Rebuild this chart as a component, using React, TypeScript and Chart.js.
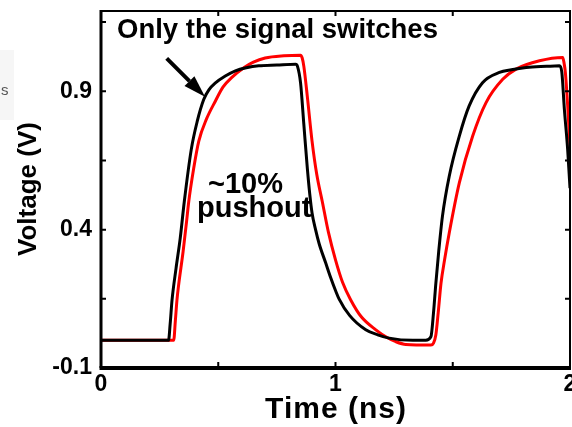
import React, { useEffect, useRef } from "react";
import { Chart, registerables } from "chart.js";
Chart.register(...registerables);

// ---- data ----
const blackTime = [0, 0.288, 0.295, 0.303, 0.32, 0.338, 0.355, 0.385, 0.41, 0.438, 0.46, 0.488, 0.53, 0.573, 0.62, 0.673, 0.75, 0.83, 0.838, 0.851, 0.865, 0.88, 0.89, 0.9, 0.915, 0.93, 0.958, 0.98, 1.0, 1.015, 1.06, 1.129, 1.18, 1.229, 1.33, 1.385, 1.407, 1.418, 1.428, 1.44, 1.456, 1.485, 1.528, 1.57, 1.627, 1.699, 1.75, 1.813, 1.9, 1.955, 1.965, 1.976, 1.99, 2.0];
const blackVolt = [0.0, 0.0, 0.06, 0.146, 0.26, 0.37, 0.5, 0.69, 0.79, 0.87, 0.905, 0.93, 0.955, 0.974, 0.985, 0.992, 0.995, 0.998, 0.99, 0.93, 0.78, 0.62, 0.53, 0.46, 0.4, 0.35, 0.28, 0.225, 0.18, 0.15, 0.09, 0.038, 0.02, 0.008, 0.0, 0.0, 0.013, 0.1, 0.207, 0.32, 0.448, 0.593, 0.738, 0.847, 0.931, 0.968, 0.978, 0.986, 0.99, 0.992, 0.97, 0.835, 0.69, 0.55];
const redTime = [0, 0.3, 0.31, 0.317, 0.324, 0.331, 0.35, 0.365, 0.374, 0.395, 0.417, 0.45, 0.488, 0.52, 0.558, 0.609, 0.65, 0.7, 0.78, 0.851, 0.858, 0.865, 0.88, 0.9, 0.92, 0.944, 0.97, 1.0, 1.03, 1.065, 1.11, 1.172, 1.22, 1.257, 1.3, 1.407, 1.418, 1.428, 1.438, 1.45, 1.465, 1.485, 1.528, 1.585, 1.642, 1.713, 1.77, 1.87, 1.969, 1.975, 1.98, 1.99, 2.0];
const redVolt = [0.0, 0.0, 0.0, 0.07, 0.146, 0.2, 0.32, 0.43, 0.5, 0.62, 0.72, 0.8, 0.865, 0.915, 0.95, 0.985, 1.005, 1.02, 1.028, 1.03, 1.02, 0.99, 0.88, 0.72, 0.6, 0.5, 0.39, 0.291, 0.21, 0.146, 0.085, 0.038, 0.01, -0.005, -0.015, -0.017, -0.01, 0.02, 0.1, 0.207, 0.29, 0.388, 0.569, 0.738, 0.859, 0.943, 0.98, 1.01, 1.022, 1.0, 0.97, 0.85, 0.7];

const xTicks = [0, 0.5, 1, 1.5, 2];
const xTickLabels = ["0", "", "1", "", "2"];
const yTicks = [-0.1, 0.15, 0.4, 0.65, 0.9, 1.15];
const yTickLabels = ["-0.1", "", "0.4", "", "0.9", ""];
const xTitle = "Time (ns)";
const yTitle = "Voltage (V)";
const noteTop = "Only the signal switches";
const notePush = ["~10%", "pushout"];
const edgeText = "s";

const FONT = "'Liberation Sans', Arial, Helvetica, sans-serif";

const overlay = {
  id: "overlay",
  beforeDraw(chart: any) {
    const { ctx } = chart;
    ctx.save();
    ctx.fillStyle = "#ffffff";
    ctx.fillRect(0, 0, chart.width, chart.height);
    ctx.fillStyle = "#f6f6f6";
    ctx.fillRect(0, 50, 14, 70);
    ctx.fillStyle = "#555";
    ctx.font = `15px ${FONT}`;
    ctx.textBaseline = "alphabetic";
    ctx.textAlign = "left";
    ctx.fillText(edgeText, 1, 95);
    ctx.restore();
  },
  afterDatasetsDraw(chart: any) {
    const { ctx, chartArea: a, scales } = chart;
    const xs = scales.x, ys = scales.y;
    ctx.save();
    ctx.strokeStyle = "#000";
    ctx.fillStyle = "#000";
    // frame
    ctx.lineWidth = 2;
    ctx.beginPath();
    ctx.moveTo(a.left, a.top);
    ctx.lineTo(a.right, a.top);
    ctx.lineTo(a.right, a.bottom);
    ctx.stroke();
    ctx.lineWidth = 3;
    ctx.beginPath();
    ctx.moveTo(a.left, a.top - 1);
    ctx.lineTo(a.left, a.bottom);
    ctx.stroke();
    ctx.lineWidth = 4;
    ctx.beginPath();
    ctx.moveTo(a.left - 1.5, a.bottom);
    ctx.lineTo(a.right + 1, a.bottom);
    ctx.stroke();
    // inward ticks
    ctx.lineWidth = 2;
    const tl = 5;
    xTicks.forEach((v) => {
      const px = xs.getPixelForValue(v);
      ctx.beginPath();
      ctx.moveTo(px, a.bottom);
      ctx.lineTo(px, a.bottom - tl - 1);
      ctx.moveTo(px, a.top);
      ctx.lineTo(px, a.top + tl);
      ctx.stroke();
    });
    yTicks.forEach((v) => {
      const py = ys.getPixelForValue(v);
      ctx.beginPath();
      ctx.moveTo(a.left, py);
      ctx.lineTo(a.left + tl, py);
      ctx.moveTo(a.right, py);
      ctx.lineTo(a.right - tl, py);
      ctx.stroke();
    });
    // axis titles
    ctx.font = `bold 30px ${FONT}`;
    ctx.textAlign = "center";
    ctx.textBaseline = "middle";
    (ctx as any).letterSpacing = "1px";
    ctx.fillText(xTitle, 336, 410);
    (ctx as any).letterSpacing = "0px";
    ctx.save();
    ctx.translate(29, 189);
    ctx.rotate(-Math.PI / 2);
    ctx.font = `bold 26px ${FONT}`;
    ctx.fillText(yTitle, 0, 0);
    ctx.restore();
    // annotations
    ctx.textAlign = "left";
    ctx.textBaseline = "alphabetic";
    ctx.font = `bold 27.5px ${FONT}`;
    ctx.fillText(noteTop, 117, 38);
    ctx.font = `bold 29px ${FONT}`;
    ctx.fillText(notePush[0], 208, 193);
    ctx.fillText(notePush[1], 197, 217);
    // arrow
    const x0 = 166.7, y0 = 58.3, x1 = 205, y1 = 96.7;
    const ang = Math.atan2(y1 - y0, x1 - x0);
    const hl = 22, hw = 7;
    const bx = x1 - hl * Math.cos(ang), by = y1 - hl * Math.sin(ang);
    ctx.lineWidth = 4;
    ctx.beginPath();
    ctx.moveTo(x0, y0);
    ctx.lineTo(bx, by);
    ctx.stroke();
    ctx.beginPath();
    ctx.moveTo(x1, y1);
    ctx.lineTo(bx + hw * Math.sin(ang), by - hw * Math.cos(ang));
    ctx.lineTo(bx - hw * Math.sin(ang), by + hw * Math.cos(ang));
    ctx.closePath();
    ctx.fill();
    ctx.restore();
  },
};

export default function App() {
  const ref = useRef<HTMLCanvasElement>(null);
  useEffect(() => {
    const black = blackTime.map((t, i) => ({ x: t, y: blackVolt[i] }));
    const red = redTime.map((t, i) => ({ x: t, y: redVolt[i] }));
    const chart = new Chart(ref.current!, {
      type: "line",
      data: {
        datasets: [
          { label: "only signal", data: black, borderColor: "#000000", borderWidth: 3, pointRadius: 0, cubicInterpolationMode: "monotone", fill: false },
          { label: "pushout", data: red, borderColor: "#ff0000", borderWidth: 3, pointRadius: 0, cubicInterpolationMode: "monotone", fill: false },
        ],
      },
      options: {
        responsive: false,
        animation: false,
        events: [],
        layout: { padding: { top: 11, right: 2, left: 0, bottom: 0 } },
        plugins: { legend: { display: false }, tooltip: { enabled: false }, title: { display: false } },
        scales: {
          x: {
            type: "linear",
            min: 0,
            max: 2,
            grid: { display: false, drawTicks: false },
            border: { display: false },
            afterBuildTicks: (s: any) => { s.ticks = xTicks.map((v) => ({ value: v })); },
            afterFit: (s: any) => { s.height = 59; s.paddingLeft = 0; s.paddingRight = 0; },
            ticks: {
              autoSkip: false,
              maxRotation: 0,
              padding: 3,
              color: "#000",
              font: { family: FONT, size: 23, weight: "bold" },
              callback: (_v: any, i: number) => xTickLabels[i],
            },
          },
          y: {
            type: "linear",
            min: -0.1,
            max: 1.19,
            grid: { display: false, drawTicks: false },
            border: { display: false },
            afterBuildTicks: (s: any) => { s.ticks = yTicks.map((v) => ({ value: v })); },
            afterFit: (s: any) => { s.width = 101; s.paddingTop = 0; s.paddingBottom = 0; },
            ticks: {
              autoSkip: false,
              padding: 9,
              color: "#000",
              font: { family: FONT, size: 23, weight: "bold" },
              callback: (_v: any, i: number) => yTickLabels[i],
            },
          },
        },
      },
      plugins: [overlay],
    } as any);
    return () => chart.destroy();
  }, []);
  return (
    <div style={{ position: "fixed", left: 0, top: 0, width: 572, height: 427, background: "#fff" }}>
      <canvas ref={ref} width={572} height={427} style={{ display: "block" }} />
    </div>
  );
}
